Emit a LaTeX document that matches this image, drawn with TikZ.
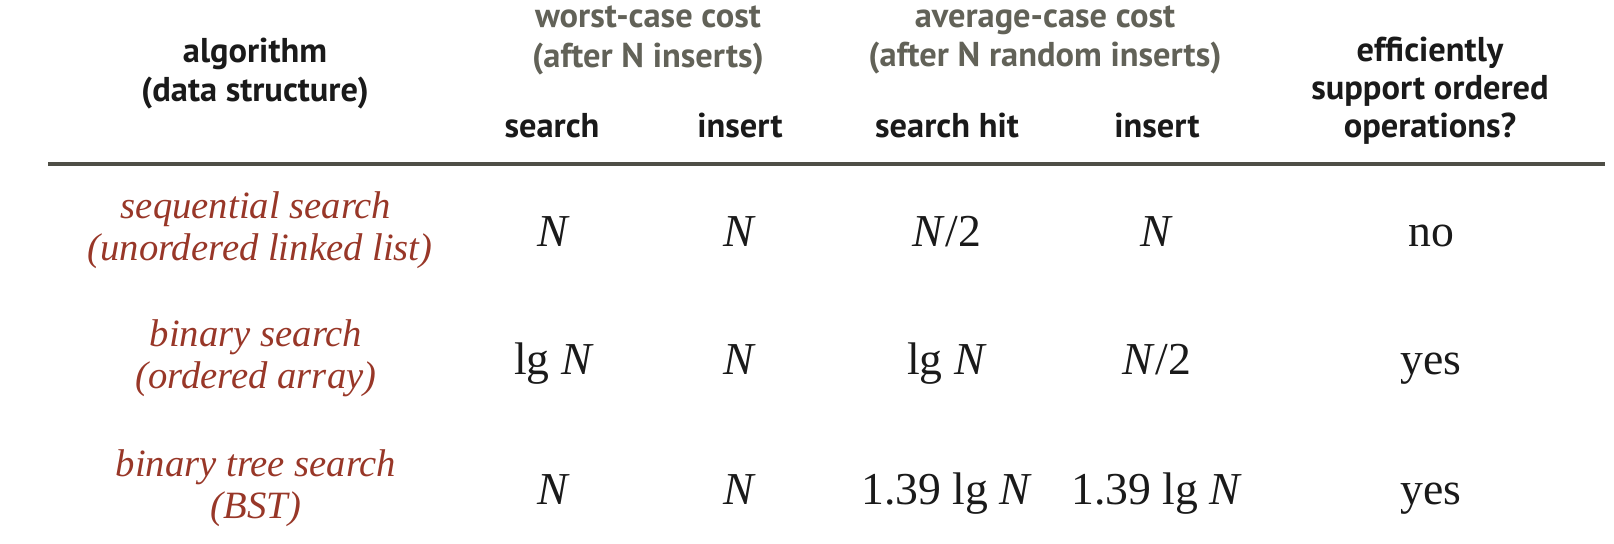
\documentclass[tikz,border=0pt]{standalone}
\usepackage{fontspec}
\setmainfont{Liberation Serif}
\newfontfamily\headfont{PT Sans}
\usepackage{xcolor}
\usepackage{tikz}
\definecolor{rust}{RGB}{152,55,40}
\definecolor{olive}{RGB}{98,98,88}
\definecolor{ink}{RGB}{26,26,26}
\definecolor{rulecol}{RGB}{78,78,70}

\begin{document}
\begin{tikzpicture}[x=0.2mm,y=-0.2mm,
		every node/.style={inner sep=0pt,anchor=base},
		colhead/.style={font=\headfont\bfseries\fontsize{19.6}{22}\selectfont,text=ink},
		grouphead/.style={colhead,text=olive},
		algo/.style={font=\itshape\fontsize{22}{24}\selectfont,text=rust},
		cost/.style={font=\fontsize{26}{30}\selectfont,text=ink}]
		\def\N{\textit{N}}
		\useasboundingbox (0,0) rectangle (1614,544);
		\node[grouphead] (wc1) at (648,28) {worst-case cost};
		\node[grouphead] (wc2) at (648,68) {(after N inserts)};
		\node[grouphead] (ac1) at (1045,28) {average-case cost};
		\node[grouphead] (ac2) at (1045,67) {(after N random inserts)};
		\node[colhead] (alg1) at (255,63) {algorithm};
		\node[colhead] (alg2) at (255,102) {(data structure)};
		\node[colhead] (ord1) at (1430,62) {efficiently};
		\node[colhead] (ord2) at (1430,100) {support ordered};
		\node[colhead] (ord3) at (1430,138) {operations?};
		\node[colhead] (wsearch) at (552,138) {search};
		\node[colhead] (winsert) at (740,138) {insert};
		\node[colhead] (ahit) at (947,138) {search hit};
		\node[colhead] (ainsert) at (1157,138) {insert};
		\coordinate (rl) at (48,164);
		\coordinate (rr) at (1605,164);
		\draw [rulecol,line width=1.8pt] (rl) -- (rr);
		\node[algo] (seq1) at (256,219) {sequential search};
		\node[algo] (seq2) at (260,261) {(unordered linked list)};
		\node[algo] (bin1) at (256,347) {binary search};
		\node[algo] (bin2) at (256,389) {(ordered array)};
		\node[algo] (bst1) at (256,477) {binary tree search};
		\node[algo] (bst2) at (256,519) {(BST)};
		\node[cost] (seqws) at (554,247) {\N};
		\node[cost] (seqwi) at (740,247) {\N};
		\node[cost] (seqah) at (947,247) {\N/2};
		\node[cost] (seqai) at (1157,247) {\N};
		\node[cost] (seqord) at (1431,247) {no};
		\node[cost] (binws) at (554,375) {lg \N};
		\node[cost] (binwi) at (740,375) {\N};
		\node[cost] (binah) at (947,375) {lg \N};
		\node[cost] (binai) at (1157,375) {\N/2};
		\node[cost] (binord) at (1431,375) {yes};
		\node[cost] (bstws) at (554,505) {\N};
		\node[cost] (bstwi) at (740,505) {\N};
		\node[cost] (bstah) at (947,505) {1.39 lg \N};
		\node[cost] (bstai) at (1157,505) {1.39 lg \N};
		\node[cost] (bstord) at (1431,505) {yes};
	\end{tikzpicture}
\end{document}
